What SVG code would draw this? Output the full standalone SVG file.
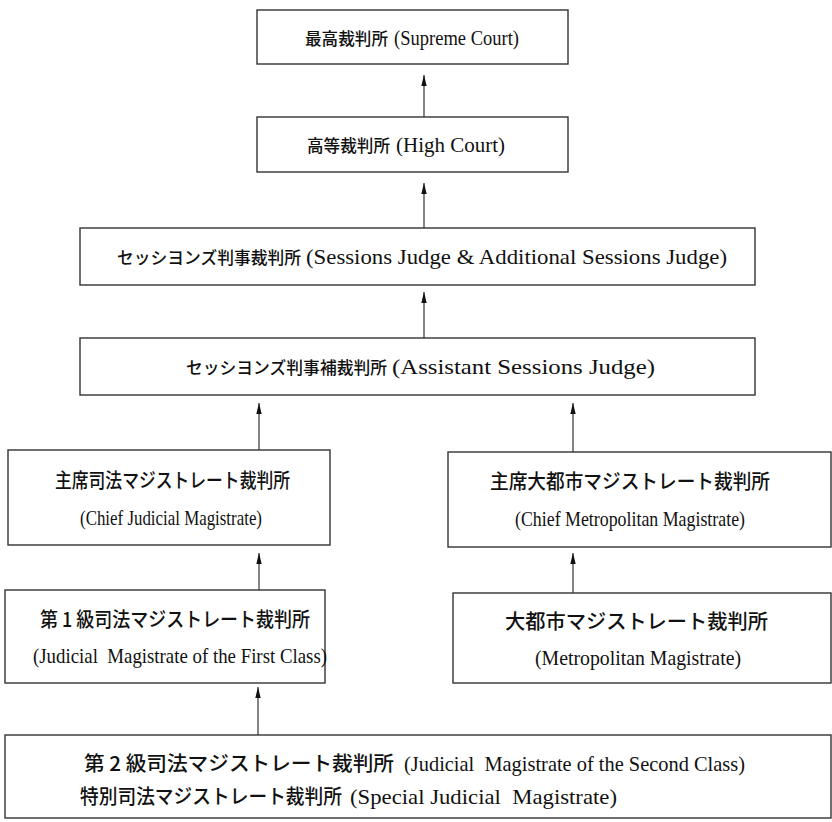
<svg xmlns="http://www.w3.org/2000/svg" width="832" height="822" viewBox="0 0 832 822">
<style>
.box{fill:#fff;stroke:#333;stroke-width:1.4}
.jp{font-family:"Noto Sans CJK JP","Noto Sans",sans-serif;font-size:20px;font-weight:500;fill:#111}
.jps{font-family:"Noto Sans CJK JP","Noto Sans",sans-serif;font-size:17px;font-weight:500;fill:#111}
.en{font-family:"Liberation Serif",serif;font-size:21px;font-weight:400;fill:#111}
.conn line{stroke:#333;stroke-width:1.2}
</style>
<defs>
<marker id="ah" markerUnits="userSpaceOnUse" markerWidth="11" markerHeight="7" refX="11" refY="3.5" orient="auto">
<path d="M0,0.8 L11,3.5 L0,6.2 z" fill="#111"/>
</marker>
</defs>
<rect width="832" height="822" fill="#fff"/>
<g id="connectors" class="conn">
<line x1="424" y1="117" x2="424" y2="75" marker-end="url(#ah)"/>
<line x1="424" y1="228" x2="424" y2="183" marker-end="url(#ah)"/>
<line x1="424" y1="338" x2="424" y2="292" marker-end="url(#ah)"/>
<line x1="259" y1="450" x2="259" y2="403" marker-end="url(#ah)"/>
<line x1="573" y1="452" x2="573" y2="403" marker-end="url(#ah)"/>
<line x1="259" y1="590" x2="259" y2="553" marker-end="url(#ah)"/>
<line x1="573" y1="593" x2="573" y2="553" marker-end="url(#ah)"/>
<line x1="258" y1="735" x2="258" y2="687" marker-end="url(#ah)"/>
</g>
<g id="supreme">
<rect class="box" x="257" y="10" width="311" height="54"/>
<text class="jps" x="305" y="45" textLength="83" lengthAdjust="spacingAndGlyphs">最高裁判所</text>
<text class="en" x="394" y="45" textLength="125" lengthAdjust="spacingAndGlyphs">(Supreme Court)</text>
</g>
<g id="high">
<rect class="box" x="257" y="117" width="311" height="55"/>
<text class="jps" x="307" y="152" textLength="83" lengthAdjust="spacingAndGlyphs">高等裁判所</text>
<text class="en" x="396" y="152" textLength="109" lengthAdjust="spacingAndGlyphs">(High Court)</text>
</g>
<g id="sessions">
<rect class="box" x="80" y="228" width="675" height="57"/>
<text class="jps" x="117" y="264" textLength="184" lengthAdjust="spacingAndGlyphs">セッシヨンズ判事裁判所</text>
<text class="en" x="306" y="264" textLength="421" lengthAdjust="spacingAndGlyphs">(Sessions Judge &amp; Additional Sessions Judge)</text>
</g>
<g id="assistant">
<rect class="box" x="80" y="338" width="675" height="57"/>
<text class="jps" x="186" y="374" textLength="201" lengthAdjust="spacingAndGlyphs">セッシヨンズ判事補裁判所</text>
<text class="en" x="392" y="374" textLength="263" lengthAdjust="spacingAndGlyphs">(Assistant Sessions Judge)</text>
</g>
<g id="chief-judicial">
<rect class="box" x="8" y="450" width="322" height="95"/>
<text class="jp" x="55" y="488" textLength="235" lengthAdjust="spacingAndGlyphs">主席司法マジストレート裁判所</text>
<text class="en" x="80" y="525" textLength="182" lengthAdjust="spacingAndGlyphs">(Chief Judicial Magistrate)</text>
</g>
<g id="chief-metro">
<rect class="box" x="448" y="452" width="383" height="95"/>
<text class="jp" x="490" y="489" textLength="280" lengthAdjust="spacingAndGlyphs">主席大都市マジストレート裁判所</text>
<text class="en" x="515" y="526" textLength="230" lengthAdjust="spacingAndGlyphs">(Chief Metropolitan Magistrate)</text>
</g>
<g id="first-class">
<rect class="box" x="5" y="590" width="320" height="93"/>
<text class="jp" x="40" y="627" textLength="270" lengthAdjust="spacingAndGlyphs">第 1 級司法マジストレート裁判所</text>
<text class="en" x="33" y="663" textLength="294" lengthAdjust="spacingAndGlyphs" xml:space="preserve">(Judicial  Magistrate of the First Class)</text>
</g>
<g id="metro">
<rect class="box" x="453" y="593" width="378" height="90"/>
<text class="jp" x="505" y="629" textLength="263" lengthAdjust="spacingAndGlyphs">大都市マジストレート裁判所</text>
<text class="en" x="535" y="665" textLength="206" lengthAdjust="spacingAndGlyphs">(Metropolitan Magistrate)</text>
</g>
<g id="second-special">
<rect class="box" x="5" y="735" width="826" height="83"/>
<text class="jp" x="84" y="771" textLength="310" lengthAdjust="spacingAndGlyphs">第 2 級司法マジストレート裁判所</text>
<text class="en" x="404" y="771" textLength="341" lengthAdjust="spacingAndGlyphs" xml:space="preserve">(Judicial  Magistrate of the Second Class)</text>
<text class="jp" x="80" y="804" textLength="262" lengthAdjust="spacingAndGlyphs">特別司法マジストレート裁判所</text>
<text class="en" x="350" y="804" textLength="267" lengthAdjust="spacingAndGlyphs" xml:space="preserve">(Special Judicial  Magistrate)</text>
</g>
</svg>
